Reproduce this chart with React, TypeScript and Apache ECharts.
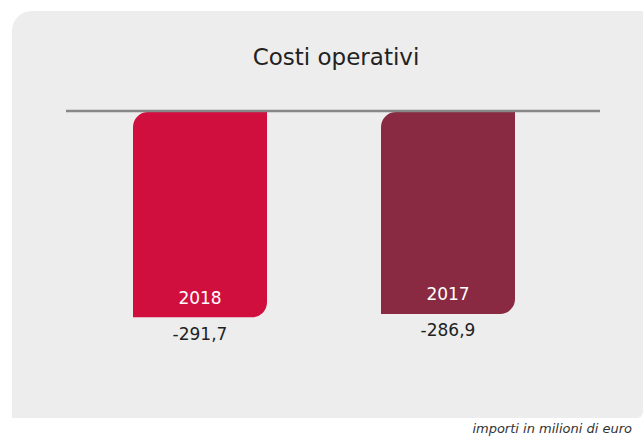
import React, { useEffect, useRef } from "react";
import * as echarts from "echarts";

const categories = ["2018", "2017"];
const values = [-291.7, -286.9];
const barColors = ["#D10F3F", "#892A42"];
const title = "Costi operativi";
const footnote = "importi in milioni di euro";

export default function App() {
  const ref = useRef<HTMLDivElement>(null);
  useEffect(() => {
    if (!ref.current) return;
    const chart = echarts.init(ref.current, null, { renderer: "svg" });
    const font = "DejaVu Sans";
    chart.setOption({
      animation: false,
      backgroundColor: "#ffffff",
      graphic: [
        {
          type: "rect",
          z: -10,
          shape: { x: 12, y: 11, width: 631, height: 407, r: [20, 0, 6, 0] },
          style: { fill: "#EDEDED" },
        },
        {
          type: "line",
          z: 10,
          shape: { x1: 66, y1: 111, x2: 600, y2: 111 },
          style: { stroke: "#888888", lineWidth: 2.5 },
        },
        {
          type: "text",
          x: 632,
          y: 428,
          style: {
            text: footnote,
            fontFamily: font,
            fontStyle: "italic",
            fontSize: 13,
            fill: "#333333",
            textAlign: "right",
            textVerticalAlign: "middle",
          },
        },
      ],
      title: {
        text: title,
        left: 331,
        textAlign: "center",
        top: 40,
        textStyle: { fontFamily: font, fontSize: 23, fontWeight: "normal", color: "#222222" },
      },
      grid: { left: 76, right: 71, top: 112, height: 211.2 },
      xAxis: {
        type: "category",
        data: categories,
        axisLine: { show: false },
        axisTick: { show: false },
        axisLabel: { show: false },
      },
      yAxis: {
        type: "value",
        min: -300,
        max: 0,
        show: false,
        splitLine: { show: false },
      },
      series: [
        {
          type: "bar",
          barWidth: 134,
          data: values.map((v, i) => ({ value: v, itemStyle: { color: barColors[i] } })),
          itemStyle: { borderRadius: [15, 0, 15, 0] },
          label: {
            show: true,
            position: "insideBottom",
            distance: 11,
            formatter: (p: any) => categories[p.dataIndex],
            color: "#ffffff",
            fontFamily: font,
            fontSize: 17,
          },
        },
        {
          type: "bar",
          barWidth: 134,
          barGap: "-100%",
          data: values,
          itemStyle: { color: "rgba(0,0,0,0)" },
          label: {
            show: true,
            position: "bottom",
            distance: 8,
            formatter: (p: any) => String(p.value.toFixed(1)).replace(".", ","),
            color: "#222222",
            fontFamily: font,
            fontSize: 17,
          },
        },
      ],
    });
    return () => chart.dispose();
  }, []);
  return (
    <div
      ref={ref}
      style={{ position: "fixed", left: 0, top: 0, width: 643, height: 436 }}
    />
  );
}
